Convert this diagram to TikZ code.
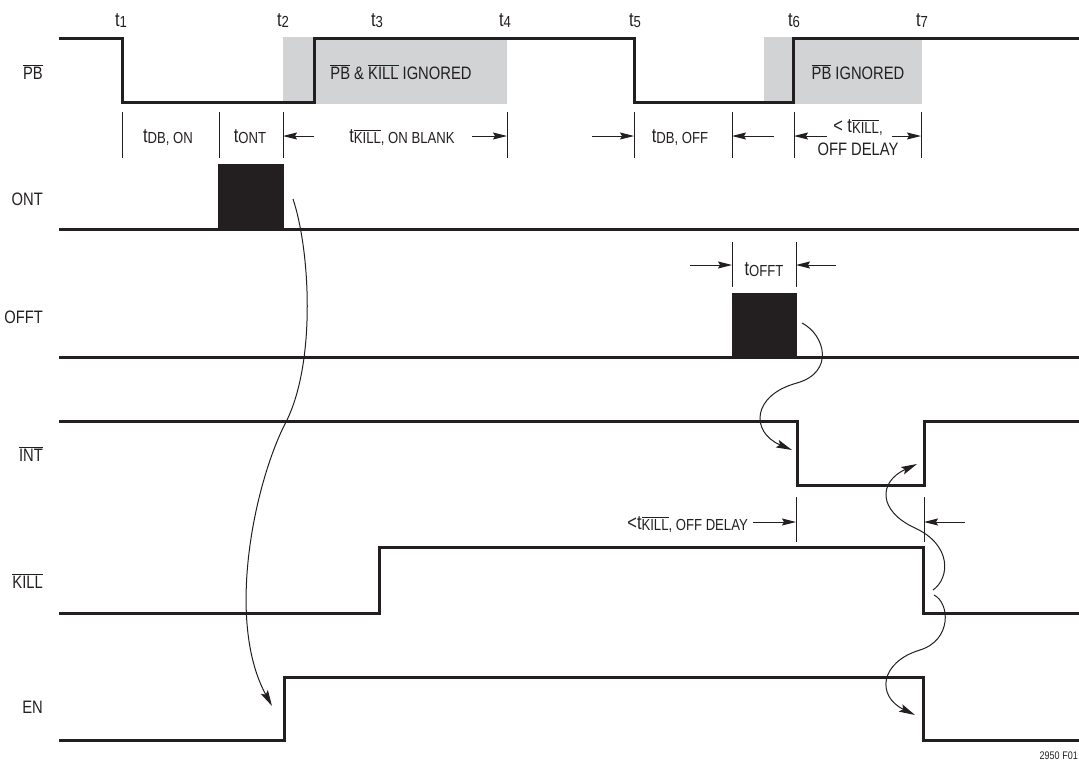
\documentclass[tikz,border=0pt]{standalone}
\usepackage{fontspec}
\setmainfont{Liberation Sans}[FakeStretch=0.82]
\usetikzlibrary{arrows.meta,calc}
\definecolor{ink}{HTML}{231F20}
\definecolor{shadegray}{HTML}{D1D3D4}
\newcommand\ovl[1]{$\overline{\hbox{#1}}$}
\newcommand\sub[1]{\raisebox{-1pt}{\fontsize{16}{16}\selectfont #1}}
\tikzset{
  sig/.style={line width=3pt, draw=ink},
  tickln/.style={line width=1pt, draw=ink},
  dimarr/.style={-{Stealth[length=14pt,width=7pt,inset=2pt]}, line width=1pt, draw=ink},
  cause/.style={-{Stealth[length=16pt,width=8pt,inset=3pt]}, line width=1pt, draw=ink},
  lbl/.style={font=\fontsize{18}{23}\selectfont, text=ink, inner sep=0pt},
  tlbl/.style={lbl, font=\fontsize{20}{23}\selectfont},
  pulse/.style={fill=ink, inner sep=0pt, anchor=south west}}

\begin{document}
\begin{tikzpicture}[x=1pt, y=-1pt]
\useasboundingbox (0,0) rectangle (1079,766);
% ignore windows
\fill[shadegray] (283,37) rectangle (507,104);
\fill[shadegray] (764,37) rectangle (922,104);
% waveforms
\draw[sig] (59,38) -| (122,102) -| (314,38) -| (634,102) -| (793,38) -- (1079,38);
\draw[sig] (59,229) -- (1079,229);
\node[pulse, minimum width=66pt, minimum height=65pt] (ontp) at (218,229) {};
\draw[sig] (59,357) -- (1079,357);
\node[pulse, minimum width=65pt, minimum height=64pt] (offtp) at (732,357) {};
\draw[sig] (59,421) -| (797,485) -| (924,421) -- (1079,421);
\draw[sig] (59,613) -| (379,547) -| (923,613) -- (1079,613);
\draw[sig] (59,740) -| (284,677) -| (923,740) -- (1079,740);
% signal names
\node[lbl, anchor=base east] (lpb) at (43,79) {\ovl{PB}};
\node[lbl, anchor=base east] (lont) at (43,205) {ONT};
\node[lbl, anchor=base east] (lofft) at (43,323) {OFFT};
\node[lbl, anchor=base east] (lint) at (43,461) {\ovl{INT}};
\node[lbl, anchor=base east] (lkill) at (43,588) {\ovl{KILL}};
\node[lbl, anchor=base east] (len) at (43,713) {EN};
\node[lbl, anchor=base] (ign1) at (401,79) {\ovl{PB} \& \ovl{KILL} IGNORED};
\node[lbl, anchor=base] (ign2) at (858,79) {\ovl{PB} IGNORED};
% time marks
\foreach \i/\x in {1/121,2/283,3/377,4/505,5/635,6/794,7/922}
  \node[tlbl, anchor=base] (t\i) at (\x,26) {t\sub{\i}};
% intervals
\foreach \n/\x in {a/122,b/219,c/283,d/507,e/634,f/732,g/794,h/921}{
  \draw[tickln] (\x,112) -- (\x,158);
  \coordinate (k\n) at (\x,136);}
\node[tlbl, anchor=base] (dbon) at (168,142) {t\sub{DB, ON}};
\node[tlbl, anchor=base] (tont) at (250,142) {t\sub{ONT}};
\node[tlbl, anchor=base] (kblank) at (402,142) {t\sub{\ovl{KILL}, ON BLANK}};
\node[tlbl, anchor=base] (dboff) at (680,142) {t\sub{DB, OFF}};
\node[tlbl, anchor=base, align=center] (kdly) at (858,155) {< t\sub{\ovl{KILL},}\\\fontsize{18}{23}\selectfont OFF DELAY};
\draw[dimarr] ($(kc)+(31,0)$) -- (kc);
\draw[dimarr] ($(kd)+(-35,0)$) -- (kd);
\draw[dimarr] ($(ke)+(-42,0)$) -- (ke);
\draw[dimarr] ($(kf)+(42,0)$) -- (kf);
\draw[dimarr] ($(kg)+(33,0)$) -- (kg);
\draw[dimarr] ($(kh)+(-29,0)$) -- (kh);
\foreach \n/\x in {i/732,j/796}{
  \draw[tickln] (\x,242) -- (\x,287);
  \coordinate (k\n) at (\x,265);}
\node[tlbl, anchor=base] (tofft) at (764,275) {t\sub{OFFT}};
\draw[dimarr] ($(ki)+(-42,0)$) -- (ki);
\draw[dimarr] ($(kj)+(40,0)$) -- (kj);
\foreach \n/\x in {m/796,n/924}{
  \draw[tickln] (\x,497) -- (\x,542);
  \coordinate (k\n) at (\x,522);}
\node[tlbl, anchor=base east] (kdly2) at (748,529) {<t\sub{\ovl{KILL}, OFF DELAY}};
\draw[dimarr] ($(km)+(-43,0)$) -- (km);
\draw[dimarr] ($(kn)+(41,0)$) -- (kn);
% cause arrows
\coordinate (c1s) at (293,199); \coordinate (c1e) at (272,706);
\coordinate (c2s) at (802,323); \coordinate (c2e) at (792,450);
\coordinate (c3s) at (933,590); \coordinate (c3e) at (917,464);
\coordinate (c4s) at (934,595); \coordinate (c4e) at (915,715);
\draw[cause] (c1s) .. controls (310,250) and (316,360) .. (287,420) .. controls (255,480) and (225,620) .. (c1e);
\draw[cause] (c2s) .. controls (825,335) and (835,372) .. (797,383) .. controls (752,395) and (750,432) .. (c2e);
\draw[cause] (c3s) .. controls (950,578) and (952,545) .. (915,528) .. controls (878,511) and (878,482) .. (c3e);
\draw[cause] (c4s) .. controls (950,603) and (952,640) .. (920,650) .. controls (880,662) and (876,696) .. (c4e);
\node[lbl, font=\fontsize{11}{11}\selectfont, anchor=base east] (fig) at (1078,759) {2950 F01};
\end{tikzpicture}
\end{document}
